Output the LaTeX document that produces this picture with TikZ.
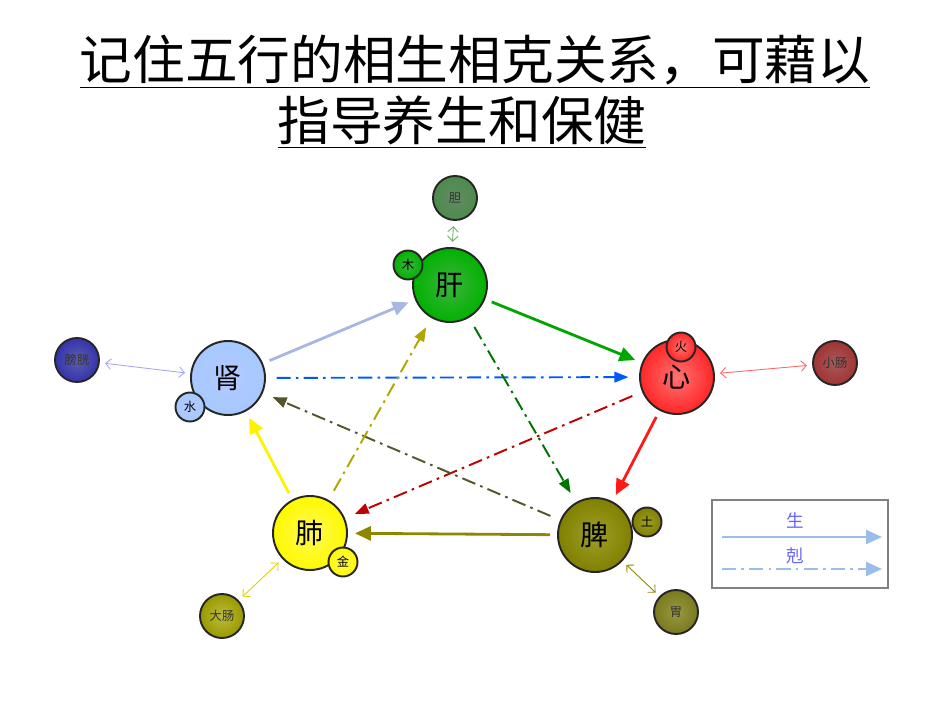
\documentclass[tikz,border=0pt]{standalone}
\usepackage{fontspec}
\setmainfont{Noto Sans CJK SC}
\newfontfamily\cjkb[AutoFakeBold=3]{Noto Sans CJK SC}
\usetikzlibrary{arrows.meta}
\begin{document}
\begin{tikzpicture}[x=0.02cm,y=-0.02cm,
 ball/.style={circle,draw=black!85,line width=1.1pt,inner color=white!35!#1,outer color=#1,inner sep=0pt},
 big/.style={ball=#1,minimum size=74*0.02cm,font=\fontsize{16}{16}\selectfont},
 elem/.style={ball=#1,minimum size=29*0.02cm,font=\fontsize{7}{7}\selectfont},
 fu/.style={ball=#1,minimum size=44*0.02cm,font=\fontsize{7}{7}\selectfont,text=black!80},
 sheng/.style={line width=1.6pt,-{Triangle[length=9pt,width=8pt]},shorten <=4pt,shorten >=4pt},
 ke/.style={line width=1.1pt,dash pattern=on 8pt off 3pt on 1.5pt off 3pt,-{Triangle[length=8pt,width=6pt]},shorten <=6pt,shorten >=6pt},
 pair/.style={line width=0.5pt,{Straight Barb[length=3pt]}-{Straight Barb[length=3pt]},shorten <=3pt,shorten >=3pt}]
\useasboundingbox (0,0) rectangle (950,713);
\node[font=\cjkb\fontsize{30}{30}\selectfont] (t1) at (475,62) {\underline{记住五行的相生相克关系，可藉以}};
\node[font=\cjkb\fontsize{30}{30}\selectfont] (t2) at (462,122) {\underline{指导养生和保健}};
% organs
\node[big=green!70!black] (gan) at (450,285) {肝};
\node[elem=green!70!black] (mu) at (408,265) {木};
\node[big=red!85] (xin) at (677,377) {心};
\node[elem=red!85] (huo) at (681,347) {火};
\node[big=cyan!40!blue!35] (shen) at (228,378) {肾};
\node[elem=cyan!40!blue!35] (shui) at (190,407) {水};
\node[big=yellow!95!orange] (fei) at (310,533) {肺};
\node[elem=yellow!95!orange] (jin) at (343,562) {金};
\node[big=olive!70!gray] (pi) at (595,535) {脾};
\node[elem=olive!70!gray] (tu) at (647,522) {土};
% fu
\node[fu=green!35!black!70] (dan) at (455,198) {胆};
\node[fu=blue!60!black!80] (pg) at (77,360) {膀胱};
\node[fu=red!55!black!80] (xc) at (835,363) {小肠};
\node[fu=olive!80] (dc) at (222,616) {大肠};
\node[fu=black!50!olive!70] (wei) at (676,612) {胃};
% sheng
\draw[sheng,cyan!40!blue!35] (shen) -- (gan);
\draw[sheng,green!65!black] (gan) -- (xin);
\draw[sheng,red!90] (xin) -- (pi);
\draw[sheng,olive] (pi) -- (fei);
\draw[sheng,yellow] (fei) -- (shen);
% ke
\draw[ke,blue!65!cyan] (shen) -- (xin);
\draw[ke,green!45!black] (gan) -- (pi);
\draw[ke,red!75!black] (xin) -- (fei);
\draw[ke,black!50!olive] (pi) -- (shen);
\draw[ke,olive!70!yellow] (fei) -- (gan);
% pairs
\draw[pair,green!50!black!60] (dan) -- (gan);
\draw[pair,blue!35] (pg) -- (shen);
\draw[pair,red!60] (xc) -- (xin);
\draw[pair,yellow!70!olive] (dc) -- (fei);
\draw[pair,olive] (wei) -- (pi);
% legend
\node[draw=black!50,line width=1pt,fill=white,minimum width=176*0.02cm,minimum height=88*0.02cm] (leg) at (800,544) {};
\node[font=\fontsize{10}{10}\selectfont,text=blue!60] (ls) at (795,521) {生};
\node[font=\fontsize{10}{10}\selectfont,text=blue!60] (lk) at (795,556) {剋};
\coordinate (a1) at (722,537); \coordinate (a2) at (882,537);
\coordinate (b1) at (722,569); \coordinate (b2) at (882,569);
\draw[line width=1pt,cyan!60!blue!40,-{Triangle[length=9pt,width=8pt]}] (a1) -- (a2);
\draw[line width=1pt,cyan!60!blue!40,dash pattern=on 8pt off 3pt on 1.5pt off 3pt,-{Triangle[length=9pt,width=8pt]}] (b1) -- (b2);
\end{tikzpicture}
\end{document}
